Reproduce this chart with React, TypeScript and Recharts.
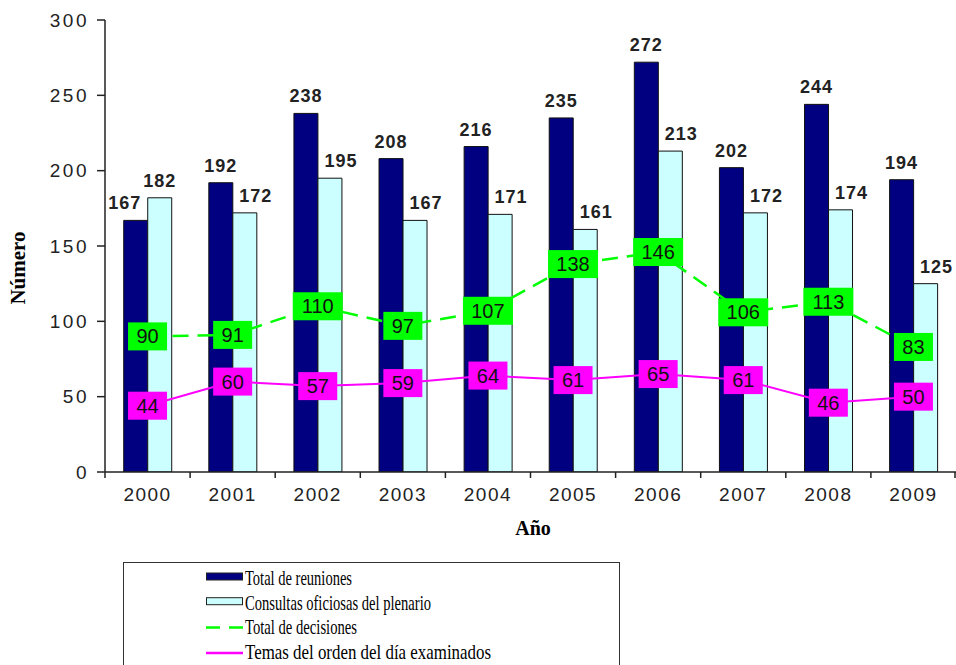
import React from 'react';
import {
  ComposedChart,
  Bar,
  Line,
  XAxis,
  YAxis,
  LabelList,
  Legend,
} from 'recharts';

const years = ['2000', '2001', '2002', '2003', '2004', '2005', '2006', '2007', '2008', '2009'];
const reuniones = [167, 192, 238, 208, 216, 235, 272, 202, 244, 194];
const consultas = [182, 172, 195, 167, 171, 161, 213, 172, 174, 125];
const decisiones = [90, 91, 110, 97, 107, 138, 146, 106, 113, 83];
const temas = [44, 60, 57, 59, 64, 61, 65, 61, 46, 50];
const yTicks = [0, 50, 100, 150, 200, 250, 300];

const data = years.map((year, i) => ({
  year,
  reuniones: reuniones[i],
  consultas: consultas[i],
  decisiones: decisiones[i],
  temas: temas[i],
}));

const W = 956;
const H = 665;
const MARGIN = { top: 20, right: 0, left: 0, bottom: 0 };
const Y_AXIS_W = 105;
const X_AXIS_H = 193;
const BAND = (W - Y_AXIS_W - MARGIN.right) / years.length;

const COLORS = {
  navy: '#000080',
  cyan: '#ccffff',
  green: '#00ff00',
  magenta: '#ff00ff',
};

const SANS = 'Arial, "Liberation Sans", sans-serif';
const SERIF = '"Times New Roman", "Liberation Serif", serif';

// Excel-style ticks sit between categories, not on them
function XTick(props: any) {
  const { x, y, payload, index } = props;
  const left = x - BAND / 2;
  return (
    <g>
      <line x1={left} y1={y} x2={left} y2={y + 6} stroke="#222" strokeWidth={1.5} />
      {index === years.length - 1 && (
        <line x1={x + BAND / 2 - 1} y1={y} x2={x + BAND / 2 - 1} y2={y + 6} stroke="#222" strokeWidth={1.5} />
      )}
      <text
        x={x}
        y={y + 29}
        textAnchor="middle"
        fontFamily={SANS}
        fontSize={19}
        letterSpacing={1.5}
        fill="#222"
      >
        {payload.value}
      </text>
    </g>
  );
}

// value labels above bars; the shorter bar of a pair gets its label nudged outward (as Excel did)
function barLabel(series: 'reuniones' | 'consultas') {
  return (props: any) => {
    const { x, y, width, value, index } = props;
    let dx = 0;
    if (series === 'consultas' && consultas[index] < reuniones[index]) dx = 11;
    if (series === 'reuniones' && reuniones[index] < consultas[index]) dx = -11;
    return (
      <text
        x={x + width / 2 + dx}
        y={y - 11}
        textAnchor="middle"
        fontFamily={SANS}
        fontSize={18}
        fontWeight="bold"
        letterSpacing={1}
        fill="#222"
      >
        {value}
      </text>
    );
  };
}

function boxLabel(color: string) {
  return (props: any) => {
    const { x, y, value } = props;
    const w = String(value).length > 2 ? 50 : 39;
    const h = 28;
    return (
      <g>
        <rect x={x - w / 2} y={y - h / 2} width={w} height={h} fill={color} />
        <text
          x={x}
          y={y + 7}
          textAnchor="middle"
          fontFamily={SANS}
          fontSize={20}
          fill="#111"
        >
          {value}
        </text>
      </g>
    );
  };
}

const legendItems = [
  { label: 'Total de reuniones', kind: 'bar', color: COLORS.navy, len: 107 },
  { label: 'Consultas oficiosas del plenario', kind: 'bar', color: COLORS.cyan, len: 186 },
  { label: 'Total de decisiones', kind: 'dash', color: COLORS.green, len: 112 },
  { label: 'Temas del orden del día examinados', kind: 'line', color: COLORS.magenta, len: 246 },
];

function LegendBox() {
  return (
    <svg width={497} height={110} style={{ display: 'block' }}>
      <rect x={0.5} y={0.5} width={496} height={120} fill="#fff" stroke="#333" strokeWidth={1} />
      {legendItems.map((item, i) => {
        const cy = 15 + i * 24.7;
        return (
          <g key={item.label}>
            {item.kind === 'bar' && (
              <rect x={83.5} y={cy - 4} width={36} height={7} fill={item.color} stroke="#222" strokeWidth={1} />
            )}
            {item.kind === 'dash' && (
              <line x1={83} y1={cy + 1} x2={120} y2={cy + 1} stroke={item.color} strokeWidth={2.5} strokeDasharray="14 9" />
            )}
            {item.kind === 'line' && (
              <line x1={83} y1={cy + 2} x2={120} y2={cy + 2} stroke={item.color} strokeWidth={2.5} />
            )}
            <text
              x={122}
              y={cy + 8}
              fontFamily={SERIF}
              fontSize={21}
              fill="#000"
              textLength={item.len}
              lengthAdjust="spacingAndGlyphs"
            >
              {item.label}
            </text>
          </g>
        );
      })}
    </svg>
  );
}

export default function App() {
  return (
    <div style={{ position: 'absolute', left: 0, top: 0, width: W, height: H, overflow: 'hidden', background: '#fff' }}>
      <ComposedChart
        width={W}
        height={H}
        data={data}
        margin={MARGIN}
        barGap={0}
        barCategoryGap="22%"
      >
        <XAxis
          dataKey="year"
          height={X_AXIS_H}
          axisLine={{ stroke: '#222', strokeWidth: 1.5 }}
          tickLine={false}
          tickSize={0}
          tickMargin={0}
          tick={<XTick />}
          interval={0}
        />
        <YAxis
          width={Y_AXIS_W}
          domain={[0, 300]}
          ticks={yTicks}
          axisLine={{ stroke: '#222', strokeWidth: 1.5 }}
          tickLine={{ stroke: '#222', strokeWidth: 1.5 }}
          tickSize={8}
          tickMargin={8}
          tick={{ fill: '#222', fontSize: 19, fontFamily: SANS, letterSpacing: 2.5 }}
          allowDataOverflow
        />
        <Legend
          layout="horizontal"
          verticalAlign="middle"
          align="center"
          wrapperStyle={{ left: 123, top: 562, width: 497, height: 110 }}
          content={() => <LegendBox />}
        />
        <Bar dataKey="reuniones" fill={COLORS.navy} stroke="#111" strokeWidth={1} isAnimationActive={false}>
          <LabelList dataKey="reuniones" content={barLabel('reuniones')} />
        </Bar>
        <Bar dataKey="consultas" fill={COLORS.cyan} stroke="#111" strokeWidth={1} isAnimationActive={false}>
          <LabelList dataKey="consultas" content={barLabel('consultas')} />
        </Bar>
        <Line
          dataKey="decisiones"
          type="linear"
          stroke={COLORS.green}
          strokeWidth={2.5}
          strokeDasharray="16 9"
          dot={false}
          activeDot={false}
          isAnimationActive={false}
        >
          <LabelList dataKey="decisiones" content={boxLabel(COLORS.green)} />
        </Line>
        <Line
          dataKey="temas"
          type="linear"
          stroke={COLORS.magenta}
          strokeWidth={2}
          dot={false}
          activeDot={false}
          isAnimationActive={false}
        >
          <LabelList dataKey="temas" content={boxLabel(COLORS.magenta)} />
        </Line>
        <text
          x={18}
          y={268}
          transform="rotate(-90 18 268)"
          textAnchor="middle"
          dominantBaseline="central"
          fontFamily={SERIF}
          fontWeight="bold"
          fontSize={21}
          fill="#000"
        >
          Número
        </text>
        <text
          x={533}
          y={535}
          textAnchor="middle"
          fontFamily={SERIF}
          fontWeight="bold"
          fontSize={20}
          fill="#000"
        >
          Año
        </text>
      </ComposedChart>
    </div>
  );
}
